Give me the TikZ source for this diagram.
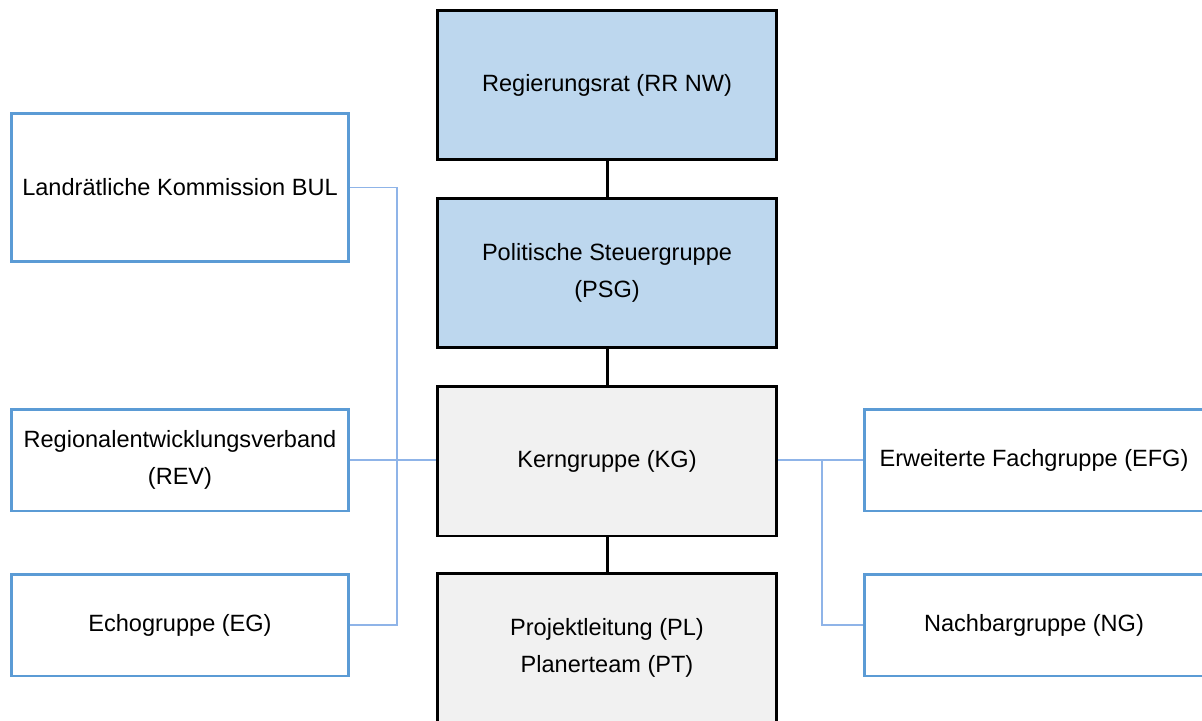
\documentclass[tikz,border=0pt]{standalone}
\usepackage{fontspec}
\setmainfont{Liberation Sans}
\usepackage{xcolor}
\usetikzlibrary{positioning}

\definecolor{boxblue}{RGB}{189,215,238}
\definecolor{boxgray}{RGB}{241,241,241}
\definecolor{rimblue}{RGB}{91,155,213}
\definecolor{lineblue}{RGB}{143,180,232}

\begin{document}
\begin{tikzpicture}[x=0.02cm, y=-0.02cm,
  every node/.style={font=\fontsize{13.4pt}{21pt}\selectfont, align=center, inner sep=0pt},
  main/.style={draw=black, line width=1.7pt, minimum width=6.8cm, minimum height=3cm},
  side/.style={draw=rimblue, line width=1.7pt, fill=white, minimum width=6.76cm},
  org/.style={black, line width=1.7pt},
  link/.style={lineblue, line width=0.9pt}]
  \useasboundingbox (0,0) rectangle (1202,720);

  % central column
  \node[main, fill=boxblue] (rr)  at (607,85)  {Regierungsrat (RR NW)};
  \node[main, fill=boxblue] (psg) at (607,273) {Politische Steuergruppe\\(PSG)};
  \node[main, fill=boxgray] (kg)  at (607,461) {Kerngruppe (KG)};
  \node[main, fill=boxgray] (pl)  at (607,648) {Projektleitung (PL)\\Planerteam (PT)};

  % left side
  \node[side, minimum height=2.98cm] (bul) at (180,187.5) {Landrätliche Kommission BUL};
  \node[side, minimum height=2.04cm] (rev) at (180,460)   {Regionalentwicklungsverband\\(REV)};
  \node[side, minimum height=2.04cm] (eg)  at (180,625)   {Echogruppe (EG)};

  % right side
  \node[side, minimum width=6.8cm, minimum height=2.04cm] (efg) at (1034,460) {Erweiterte Fachgruppe (EFG)};
  \node[side, minimum width=6.8cm, minimum height=2.04cm] (ng)  at (1034,625) {Nachbargruppe (NG)};

  \draw[org] (rr) -- (psg);
  \draw[org] (psg) -- (kg);
  \draw[org] (kg) -- (pl);

  \coordinate (lj) at (397,187.5);
  \coordinate (rj) at (822,460);
  \draw[link] (bul.east) -- (lj) |- (eg.east);
  \draw[link] (rev.east) -- (rev.east -| kg.west);
  \draw[link] (kg.east |- efg.west) -- (efg.west);
  \draw[link] (rj) |- (ng.west);
\end{tikzpicture}
\end{document}
